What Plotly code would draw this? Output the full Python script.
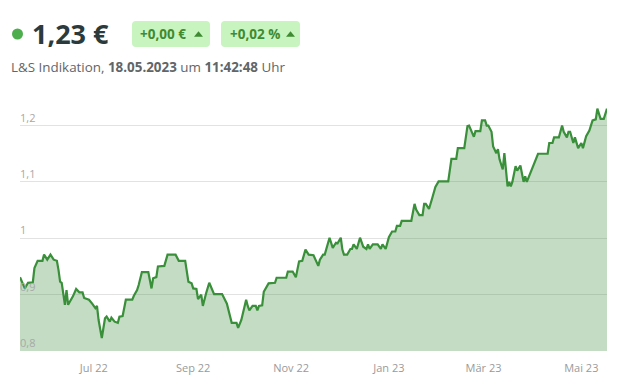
import plotly.graph_objects as go

# ---------------- data ----------------
dates = [
    "2022-05-16", "2022-05-18", "2022-05-19", "2022-05-21", "2022-05-24", "2022-05-25", "2022-05-27",
    "2022-05-30", "2022-05-31", "2022-06-02", "2022-06-04", "2022-06-06", "2022-06-08", "2022-06-09",
    "2022-06-10", "2022-06-11", "2022-06-13", "2022-06-14", "2022-06-15", "2022-06-18", "2022-06-20",
    "2022-06-22", "2022-06-24", "2022-06-25", "2022-06-28", "2022-06-30", "2022-07-02", "2022-07-03",
    "2022-07-04", "2022-07-06", "2022-07-08", "2022-07-09", "2022-07-11", "2022-07-12", "2022-07-14",
    "2022-07-16", "2022-07-17", "2022-07-19", "2022-07-20", "2022-07-21", "2022-07-25", "2022-07-26",
    "2022-07-28", "2022-07-29", "2022-07-31", "2022-08-04", "2022-08-06", "2022-08-07", "2022-08-09",
    "2022-08-10", "2022-08-14", "2022-08-16", "2022-08-21", "2022-08-23", "2022-08-27", "2022-08-29",
    "2022-08-31", "2022-09-01", "2022-09-03", "2022-09-04", "2022-09-06", "2022-09-07", "2022-09-09",
    "2022-09-11", "2022-09-14", "2022-09-19", "2022-09-22", "2022-09-24", "2022-09-25", "2022-09-28",
    "2022-09-29", "2022-10-01", "2022-10-04", "2022-10-05", "2022-10-06", "2022-10-08", "2022-10-10",
    "2022-10-11", "2022-10-12", "2022-10-14", "2022-10-15", "2022-10-18", "2022-10-22", "2022-10-23",
    "2022-10-29", "2022-10-30", "2022-11-02", "2022-11-04", "2022-11-06", "2022-11-08", "2022-11-10",
    "2022-11-12", "2022-11-15", "2022-11-18", "2022-11-19", "2022-11-21", "2022-11-22", "2022-11-25",
    "2022-11-27", "2022-11-29", "2022-11-30", "2022-12-02", "2022-12-03", "2022-12-04", "2022-12-06",
    "2022-12-08", "2022-12-09", "2022-12-10", "2022-12-12", "2022-12-14", "2022-12-16", "2022-12-18",
    "2022-12-19", "2022-12-20", "2022-12-22", "2022-12-25", "2022-12-27", "2022-12-28", "2022-12-30",
    "2023-01-01", "2023-01-03", "2023-01-05", "2023-01-06", "2023-01-08", "2023-01-09", "2023-01-15",
    "2023-01-17", "2023-01-18", "2023-01-20", "2023-01-22", "2023-01-23", "2023-01-24", "2023-01-26",
    "2023-01-28", "2023-01-30", "2023-02-01", "2023-02-07", "2023-02-08", "2023-02-09", "2023-02-12",
    "2023-02-13", "2023-02-17", "2023-02-19", "2023-02-20", "2023-02-22", "2023-02-23", "2023-02-24",
    "2023-02-27", "2023-02-28", "2023-03-02", "2023-03-03", "2023-03-04", "2023-03-06", "2023-03-07",
    "2023-03-09", "2023-03-10", "2023-03-11", "2023-03-13", "2023-03-14", "2023-03-16", "2023-03-17",
    "2023-03-18", "2023-03-19", "2023-03-21", "2023-03-22", "2023-03-24", "2023-03-26", "2023-03-27",
    "2023-03-28", "2023-04-04", "2023-04-10", "2023-04-11", "2023-04-13", "2023-04-14", "2023-04-17",
    "2023-04-19", "2023-04-20", "2023-04-22", "2023-04-23", "2023-04-24", "2023-04-26", "2023-04-27",
    "2023-04-29", "2023-05-01", "2023-05-02", "2023-05-04", "2023-05-06", "2023-05-08", "2023-05-10",
    "2023-05-11", "2023-05-13", "2023-05-15", "2023-05-17",
]
prices = [
    0.931, 0.917, 0.911, 0.921, 0.922, 0.947, 0.960,
    0.960, 0.971, 0.962, 0.971, 0.962, 0.960, 0.944,
    0.923, 0.921, 0.882, 0.908, 0.882, 0.897, 0.910,
    0.904, 0.904, 0.894, 0.891, 0.884, 0.876, 0.880,
    0.855, 0.823, 0.858, 0.861, 0.852, 0.859, 0.852,
    0.850, 0.861, 0.862, 0.874, 0.891, 0.891, 0.898,
    0.908, 0.917, 0.940, 0.940, 0.911, 0.929, 0.931,
    0.950, 0.951, 0.971, 0.971, 0.960, 0.960, 0.923,
    0.920, 0.911, 0.910, 0.892, 0.900, 0.880, 0.902,
    0.921, 0.901, 0.901, 0.884, 0.861, 0.850, 0.850,
    0.841, 0.855, 0.891, 0.880, 0.872, 0.880, 0.880,
    0.872, 0.880, 0.881, 0.905, 0.920, 0.921, 0.930,
    0.930, 0.941, 0.941, 0.931, 0.959, 0.960, 0.980,
    0.971, 0.970, 0.951, 0.962, 0.971, 0.971, 1.001,
    0.983, 0.992, 0.991, 1.001, 0.980, 0.971, 0.971,
    0.981, 0.981, 0.989, 0.981, 1.001, 0.985, 0.981,
    0.989, 0.981, 0.989, 0.989, 0.981, 0.989, 0.981,
    1.002, 1.012, 1.012, 1.022, 1.022, 1.031, 1.031,
    1.061, 1.051, 1.041, 1.041, 1.061, 1.061, 1.052,
    1.071, 1.091, 1.101, 1.101, 1.121, 1.141, 1.141,
    1.160, 1.160, 1.199, 1.200, 1.187, 1.180, 1.190,
    1.190, 1.209, 1.209, 1.200, 1.200, 1.189, 1.163,
    1.151, 1.158, 1.140, 1.122, 1.151, 1.092, 1.100,
    1.092, 1.100, 1.128, 1.120, 1.129, 1.100, 1.110,
    1.100, 1.150, 1.150, 1.169, 1.169, 1.179, 1.179,
    1.200, 1.189, 1.179, 1.189, 1.189, 1.169, 1.179,
    1.160, 1.169, 1.160, 1.181, 1.191, 1.209, 1.211,
    1.230, 1.212, 1.212, 1.230,
]

x_tick_vals = ["2022-07-01", "2022-09-01", "2022-11-01", "2023-01-01", "2023-03-01", "2023-05-01"]
x_tick_text = ["Jul 22", "Sep 22", "Nov 22", "Jan 23", "Mär 23", "Mai 23"]
y_tick_vals = [0.8, 0.9, 1.0, 1.1, 1.2]
y_tick_text = ["0,8", "0,9", "1", "1,1", "1,2"]

price_text = "1,23 €"
change_abs = "+0,00 €"
change_pct = "+0,02 %"
subtitle = "L&S Indikation, <b>18.05.2023</b> um <b>11:42:48</b> Uhr"

# ---------------- layout geometry ----------------
OFF = 8                      # default page margin of the html body
FW, FH = 621, 372            # figure size so the page fits the 629x380 window
L, R, T, B = 20, 607, 103, 351   # desired plot area in window pixels
FONT = "Open Sans, Lato, sans-serif"


def px(x):
    return (x - L) / (R - L)


def py(y):
    return (B - y) / (B - T)


def rounded_rect(x0, y0, x1, y1, r):
    rx = r / (R - L)
    ry = r / (B - T)
    a0, a1 = px(x0), px(x1)
    b0, b1 = py(y1), py(y0)
    return (
        f"M {a0+rx},{b0} L {a1-rx},{b0} Q {a1},{b0} {a1},{b0+ry} "
        f"L {a1},{b1-ry} Q {a1},{b1} {a1-rx},{b1} "
        f"L {a0+rx},{b1} Q {a0},{b1} {a0},{b1-ry} "
        f"L {a0},{b0+ry} Q {a0},{b0} {a0+rx},{b0} Z"
    )


def triangle(cx, cy, w, h):
    return (f"M {px(cx - w / 2)},{py(cy + h / 2)} L {px(cx + w / 2)},{py(cy + h / 2)} "
            f"L {px(cx)},{py(cy - h / 2)} Z")


fig = go.Figure()
fig.add_trace(go.Scatter(
    x=dates, y=prices, mode="lines",
    line=dict(color="#3a8f3a", width=2.2),
    fill="tozeroy", fillcolor="rgba(60,140,60,0.30)",
    hoverinfo="skip",
))

badge_bg = "#c8f4c0"
badge_fg = "#3f8a32"

shapes = [
    dict(type="circle", xref="paper", yref="paper",
         x0=px(12), x1=px(23), y0=py(39.5), y1=py(28.5),
         fillcolor="#4cae4c", line=dict(width=0)),
    dict(type="path", xref="paper", yref="paper", path=rounded_rect(132, 21, 210, 47, 4),
         fillcolor=badge_bg, line=dict(width=0)),
    dict(type="path", xref="paper", yref="paper", path=rounded_rect(221, 21, 300, 47, 4),
         fillcolor=badge_bg, line=dict(width=0)),
    dict(type="path", xref="paper", yref="paper", path=triangle(198.5, 34, 9, 5.5),
         fillcolor=badge_fg, line=dict(width=0)),
    dict(type="path", xref="paper", yref="paper", path=triangle(290.5, 34, 9, 5.5),
         fillcolor=badge_fg, line=dict(width=0)),
]

annotations = [
    dict(text=f"<b>{price_text}</b>", x=px(30), y=py(33), xref="paper", yref="paper",
         xanchor="left", yanchor="middle", showarrow=False,
         font=dict(family=FONT, size=27, color="#2b3a3c")),
    dict(text=f"<b>{change_abs}</b>", x=px(138), y=py(34), xref="paper", yref="paper",
         xanchor="left", yanchor="middle", showarrow=False,
         font=dict(family=FONT, size=13.5, color=badge_fg)),
    dict(text=f"<b>{change_pct}</b>", x=px(228), y=py(34), xref="paper", yref="paper",
         xanchor="left", yanchor="middle", showarrow=False,
         font=dict(family=FONT, size=13.5, color=badge_fg)),
    dict(text=subtitle, x=px(9), y=py(67), xref="paper", yref="paper",
         xanchor="left", yanchor="middle", showarrow=False,
         font=dict(family=FONT, size=13.4, color="#5f6668")),
]

fig.update_layout(
    width=FW, height=FH,
    margin=dict(l=L - OFF, r=(OFF + FW) - R, t=T - OFF, b=(OFF + FH) - B, pad=0,
                autoexpand=False),
    paper_bgcolor="white", plot_bgcolor="white",
    showlegend=False,
    font=dict(family=FONT),
    shapes=shapes,
    annotations=annotations,
    xaxis=dict(
        type="date", range=[dates[0], dates[-1]],
        tickvals=x_tick_vals, ticktext=x_tick_text,
        showgrid=False, zeroline=False, showline=False,
        ticks="outside", ticklen=7, tickcolor="rgba(0,0,0,0)",
        tickfont=dict(family=FONT, size=11, color="#9a9a9a"),
        automargin=False, fixedrange=True,
    ),
    yaxis=dict(
        range=[0.8, 1.24],
        tickvals=y_tick_vals, ticktext=y_tick_text,
        ticklabelposition="inside top", ticklabelstandoff=-3,
        showgrid=True, gridcolor="#e2e2e2", gridwidth=1,
        zeroline=False, showline=False, ticks="",
        tickfont=dict(family=FONT, size=11, color="#a8a8a8"),
        automargin=False, fixedrange=True,
    ),
)

fig.write_html("out.html", config={"displayModeBar": False})
